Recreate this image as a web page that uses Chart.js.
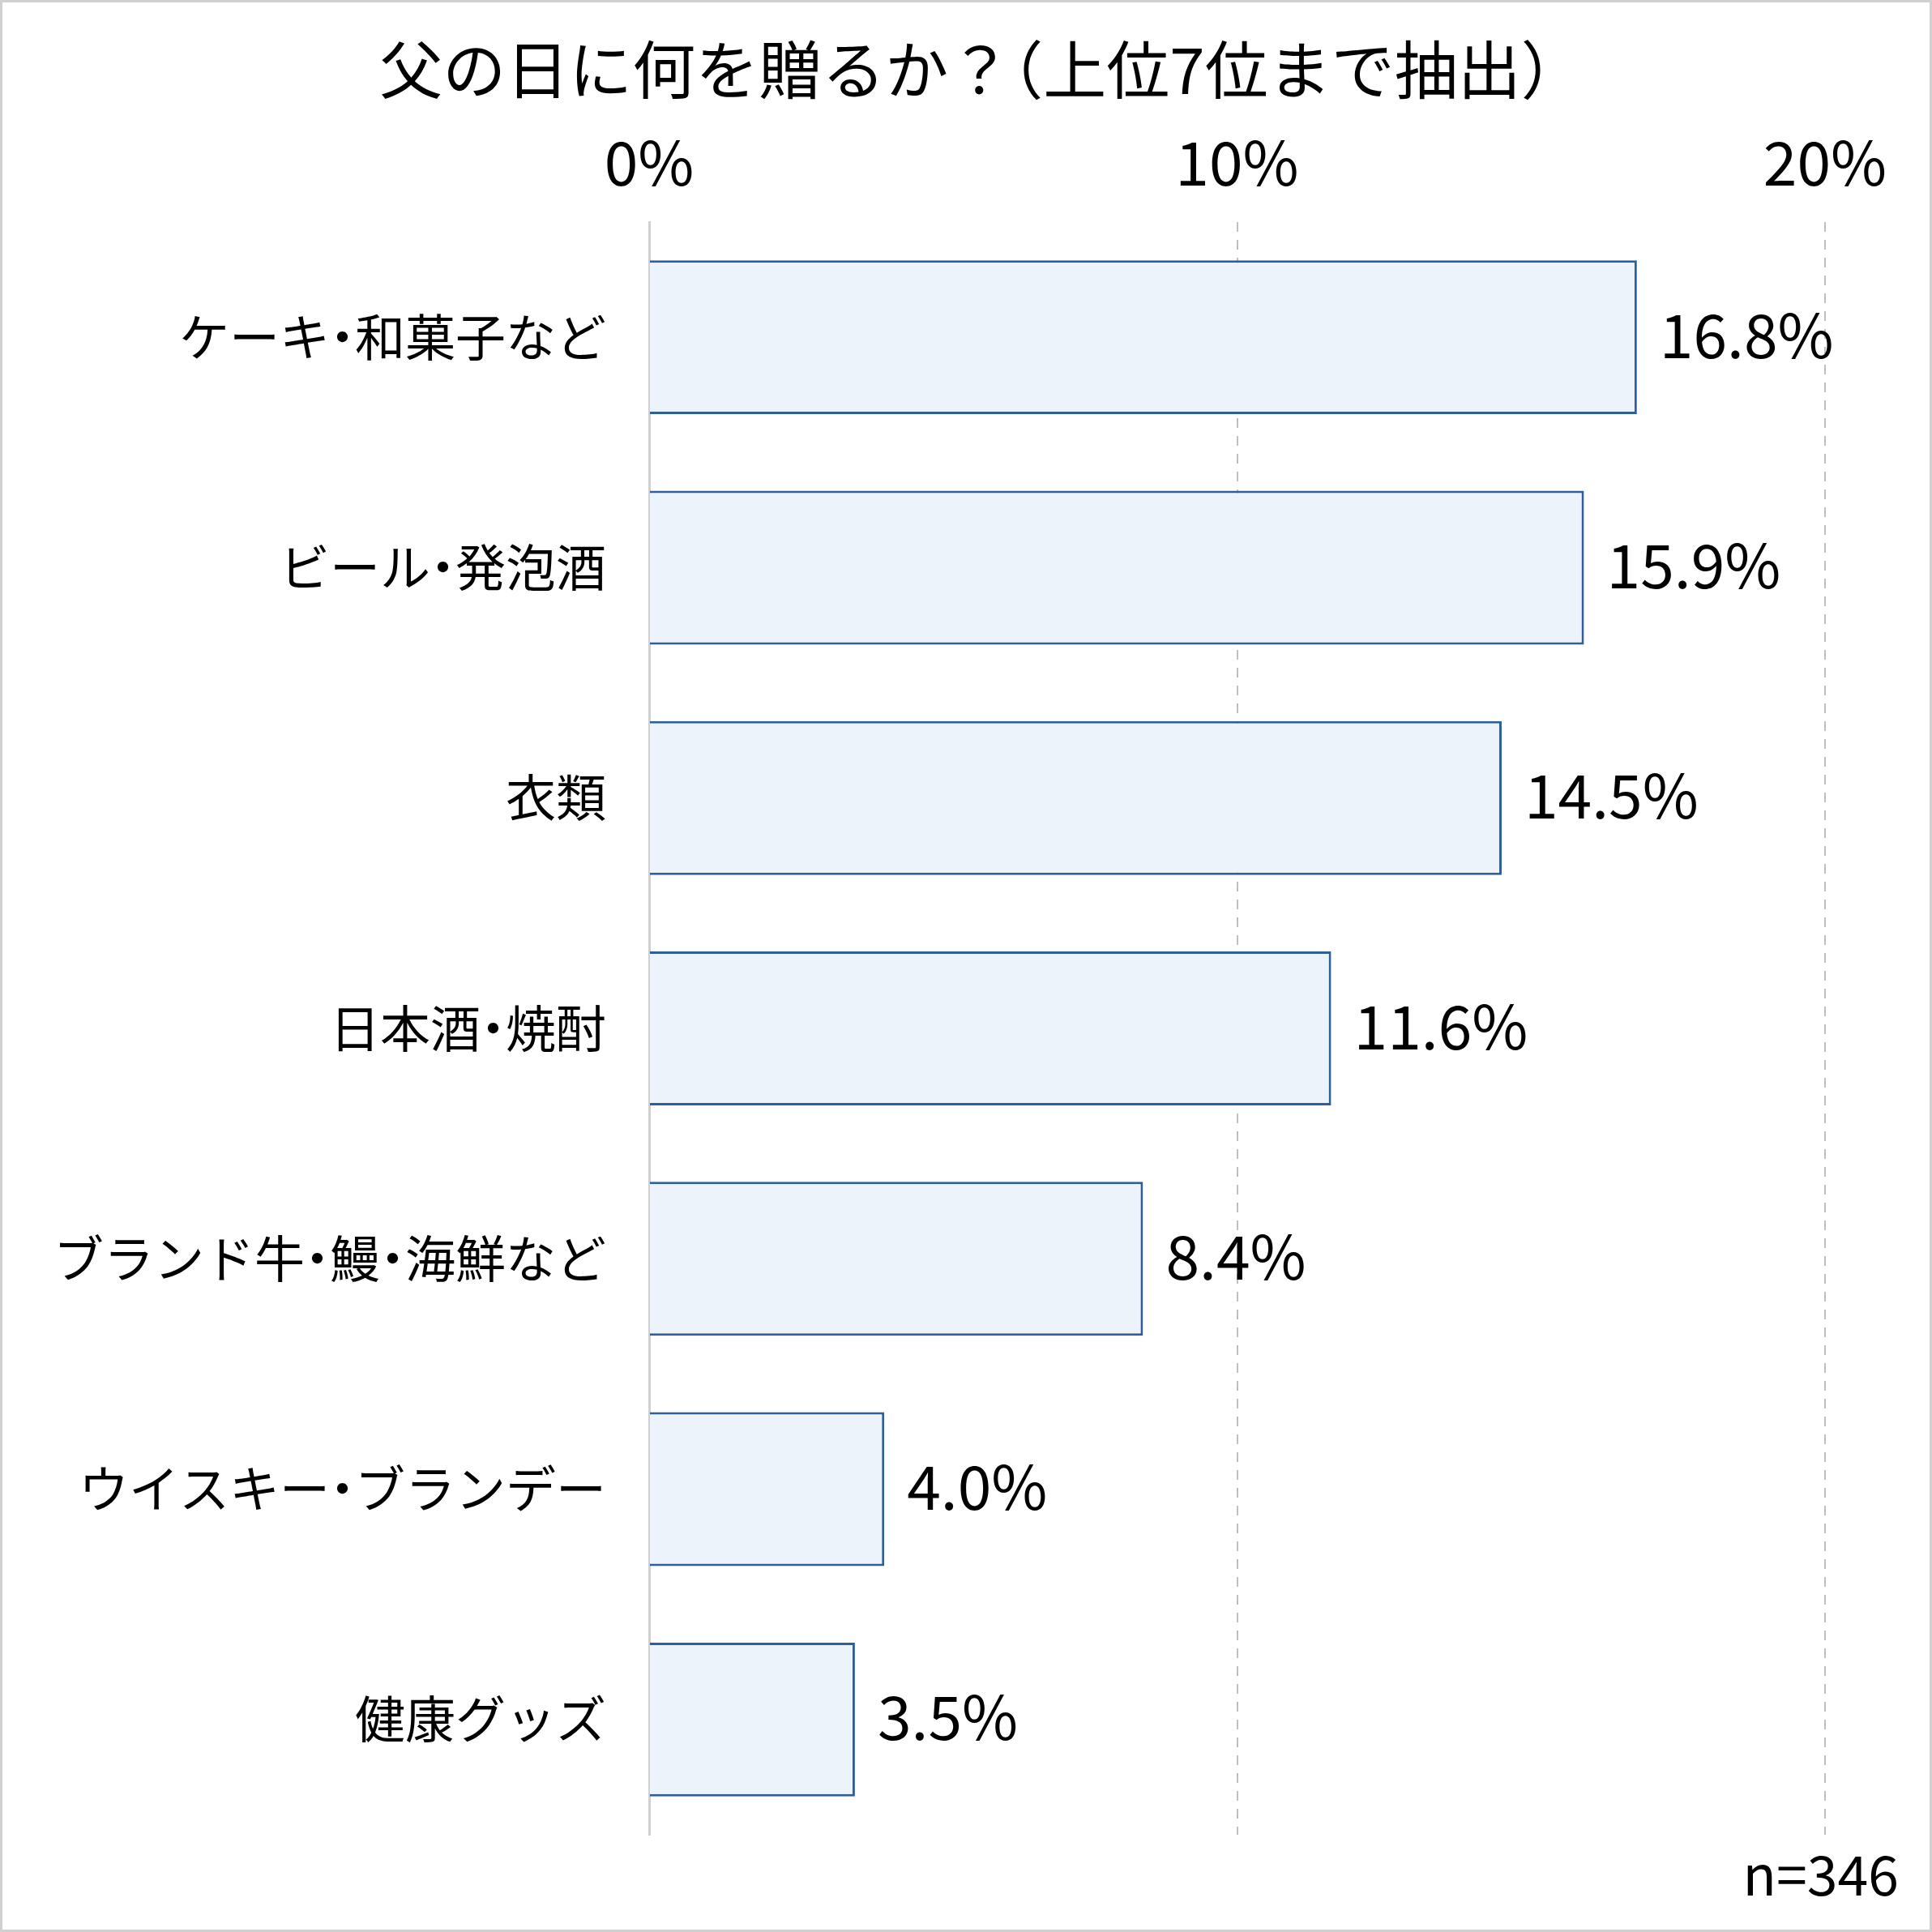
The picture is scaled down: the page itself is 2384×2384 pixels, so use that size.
<!DOCTYPE html>
<html>
<head>
<meta charset="utf-8">
<script src="https://cdn.jsdelivr.net/npm/chart.js@4"></script>
<style>
  body { margin: 0; background: #fff; }
  #wrap { width: 2384px; height: 2384px; }
</style>
</head>
<body>
<div id="wrap"><canvas id="giftChart"></canvas></div>
<script>
const categories = ['ケーキ・和菓子など', 'ビール・発泡酒', '衣類', '日本酒・焼酎', 'ブランド牛・鰻・海鮮など', 'ウイスキー・ブランデー', '健康グッズ'];
const shares = [16.8, 15.9, 14.5, 11.6, 8.4, 4.0, 3.5];
const tickValues = [0, 10, 20];
const chartTitle = '父の日に何を贈るか？（上位7位まで抽出）';
const sampleNote = 'n=346';

const FONT = '"Noto Sans CJK JP", "Noto Sans", sans-serif';

// the original uses proportional punctuation, so squeeze a few full-width glyphs
// advance in em, and where the glyph sits inside its full-width cell
const narrow = {
  '・': { adv: 0.5, shift: -0.25 },
  '（': { adv: 0.5, shift: -0.5 },
  '）': { adv: 0.5, shift: 0 }
};

function textWidth(ctx, text, size) {
  let w = 0;
  for (const ch of text) {
    w += narrow[ch] ? narrow[ch].adv * size : ctx.measureText(ch).width;
  }
  return w;
}

function drawText(ctx, text, x, y, size, align) {
  const total = textWidth(ctx, text, size);
  let cx = align === 'right' ? x - total : align === 'center' ? x - total / 2 : x;
  ctx.textAlign = 'left';
  for (const ch of text) {
    if (narrow[ch]) {
      ctx.fillText(ch, cx + narrow[ch].shift * size, y);
      cx += narrow[ch].adv * size;
    } else {
      ctx.fillText(ch, cx, y);
      cx += ctx.measureText(ch).width;
    }
  }
}

const extras = {
  id: 'extras',
  afterDatasetsDraw(chart) {
    const ctx = chart.ctx;
    const yScale = chart.scales.y;
    const meta = chart.getDatasetMeta(0);
    ctx.save();
    ctx.fillStyle = '#000';
    ctx.textBaseline = 'middle';

    // title
    ctx.font = '78px ' + FONT;
    drawText(ctx, chartTitle, chart.width / 2, 86, 78, 'center');

    // category labels
    ctx.font = '62px ' + FONT;
    categories.forEach((c, i) => {
      drawText(ctx, c, yScale.right - 53, yScale.getPixelForValue(i), 62, 'right');
    });

    // value labels
    ctx.font = '75px ' + FONT;
    ctx.textAlign = 'left';
    meta.data.forEach((bar, i) => {
      ctx.fillText(shares[i].toFixed(1) + '%', bar.x + 28, bar.y - 3);
    });

    // sample size
    ctx.font = '68px ' + FONT;
    ctx.textAlign = 'right';
    ctx.fillText(sampleNote, 2343, 2313);

    // frame
    ctx.strokeStyle = '#d0d0d0';
    ctx.lineWidth = 3;
    ctx.strokeRect(1.5, 1.5, chart.width - 3, chart.height - 3);
    ctx.restore();
  }
};

new Chart(document.getElementById('giftChart'), {
  type: 'bar',
  data: {
    labels: categories,
    datasets: [{
      data: shares,
      backgroundColor: '#edf3fb',
      borderColor: '#2f5f98',
      borderWidth: 3,
      categoryPercentage: 1,
      barPercentage: 0.668
    }]
  },
  options: {
    indexAxis: 'y',
    responsive: true,
    maintainAspectRatio: false,
    animation: false,
    layout: { padding: { top: 126, left: 0, right: 132, bottom: 120 } },
    plugins: {
      legend: { display: false },
      tooltip: { enabled: false },
      title: { display: false }
    },
    scales: {
      x: {
        position: 'top',
        min: 0,
        max: 20,
        afterBuildTicks(scale) {
          scale.ticks = tickValues.map(v => ({ value: v }));
        },
        ticks: {
          color: '#000',
          font: { family: FONT, size: 75, lineHeight: 1.0 },
          padding: 36.5,
          callback: v => v + '%'
        },
        grid: {
          drawTicks: false,
          color: ctx => ctx.tick && ctx.tick.value === 0 ? 'rgba(0,0,0,0)' : '#bfbfbf',
          lineWidth: 2
        },
        border: { display: false, dash: [12, 10] }
      },
      y: {
        afterFit(scale) { scale.width = 801; },
        ticks: { display: false },
        grid: { display: false, drawTicks: false },
        border: { display: true, color: '#d0d0d0', width: 3 }
      }
    }
  },
  plugins: [extras]
});
</script>
</body>
</html>
